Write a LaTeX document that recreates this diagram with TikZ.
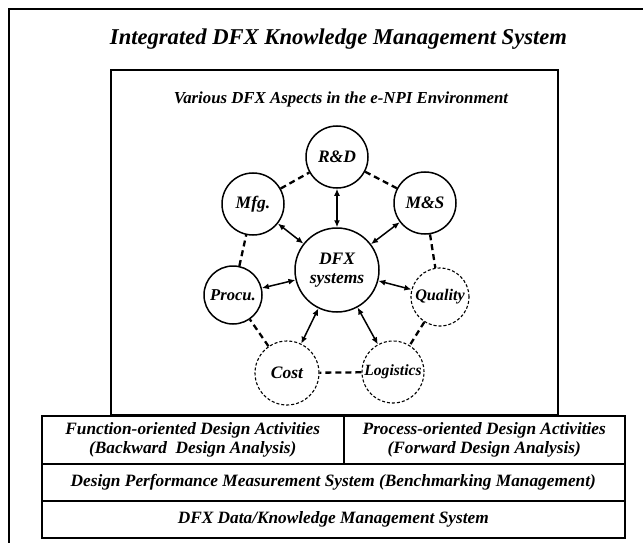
\documentclass[tikz,border=0pt]{standalone}
\usepackage{fontspec}
\setmainfont{Liberation Serif}
\usetikzlibrary{arrows.meta}

\begin{document}
\begin{tikzpicture}[x=1pt,y=-1pt,
		aspect/.style={circle,draw,line width=1.5pt,inner sep=0pt,minimum size=62pt,
			font=\fontsize{17.5}{18.5}\selectfont\bfseries\itshape},
		future/.style={aspect,line width=1.1pt,dash pattern=on 3pt off 2pt},
		ring/.style={line width=2.3pt,dash pattern=on 6pt off 4pt},
		link/.style={line width=1.5pt,{Latex[length=7pt,width=6pt]}-{Latex[length=7pt,width=6pt]}},
		layer/.style={draw,line width=1.5pt,inner sep=0pt,anchor=north west,align=center,
			font=\fontsize{17.3}{19.5}\selectfont\bfseries\itshape}]
			\clip (0,0) rectangle (643,543);
			\draw[line width=1.6pt] (9,9) rectangle (700,600);
			\node[anchor=base,font=\fontsize{22.6}{26}\selectfont\bfseries\itshape] (title) at (338.5,45)
				{Integrated DFX Knowledge Management System};
			\draw[line width=1.7pt] (111,70) rectangle (558,415);
			\node[anchor=base,font=\fontsize{16.8}{19}\selectfont\bfseries\itshape] (aspects) at (341,103)
				{Various DFX Aspects in the e-NPI Environment};
			% aspect circles
			\node[aspect,minimum size=84pt,align=center] (dfx) at (337,270) {DFX\\systems};
			\node[aspect] (rd) at (337,157) {R\&D};
			\node[aspect] (mfg) at (253,204) {Mfg.};
			\node[aspect] (ms) at (425,203) {M\&S};
			\node[aspect,minimum size=58pt,font=\fontsize{16.6}{18}\selectfont\bfseries\itshape] (procu) at (233,295) {Procu.};
			\node[future,minimum size=58pt,font=\fontsize{16.2}{18}\selectfont\bfseries\itshape] (quality) at (440,297) {Quality};
			\node[future,minimum size=64pt] (cost) at (287,373) {Cost};
			\node[future,font=\fontsize{15.6}{18}\selectfont\bfseries\itshape] (logistics) at (393,372) {Logistics};
			\foreach \a/\b in {rd/ms,ms/quality,quality/logistics,logistics/cost,cost/procu,procu/mfg,mfg/rd}
				\draw[ring] (\a) -- (\b);
			\foreach \n in {rd,mfg,ms,procu,quality,cost,logistics}
				\draw[link] (dfx) -- (\n);
			% design layers
			\node[layer,minimum width=302pt,minimum height=48pt] (function) at (41,415)
				{Function-oriented Design Activities\\(Backward~ Design Analysis)};
			\node[layer,minimum width=281pt,minimum height=48pt] (process) at (343,415)
				{Process-oriented Design Activities\\(Forward Design Analysis)};
			\node[layer,minimum width=583pt,minimum height=37pt] (measure) at (41,463)
				{Design Performance Measurement System (Benchmarking Management)};
			\node[layer,minimum width=583pt,minimum height=37pt] (knowledge) at (41,500)
				{DFX Data/Knowledge Management System};
		\end{tikzpicture}
\end{document}
